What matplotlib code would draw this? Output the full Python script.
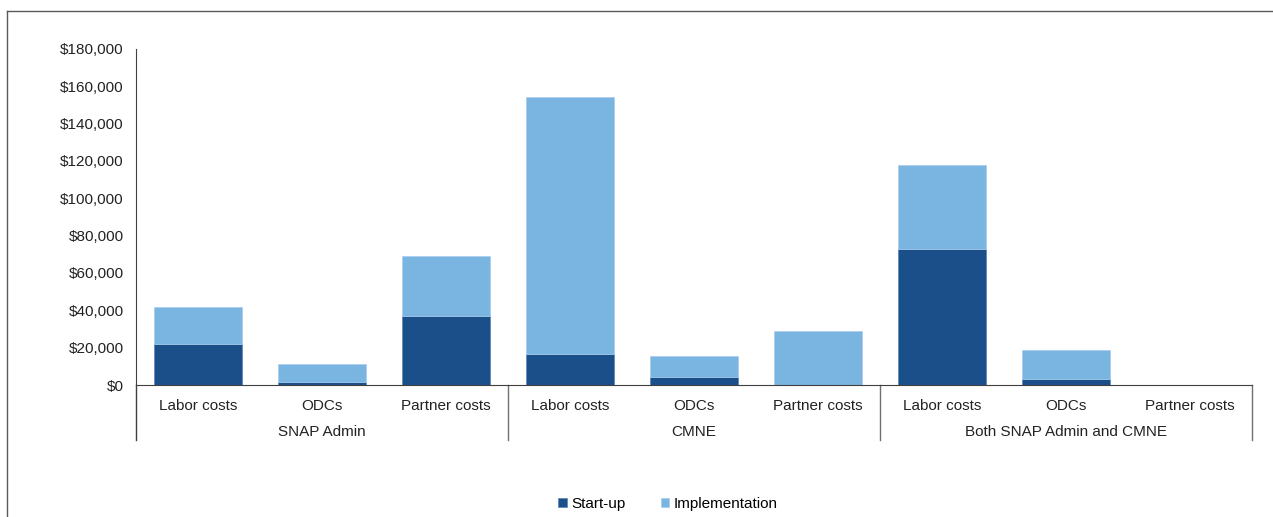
import matplotlib.pyplot as plt
import numpy as np
from matplotlib.lines import Line2D
from matplotlib.ticker import FuncFormatter

plt.rcParams['font.family'] = ['Liberation Sans', 'DejaVu Sans']

# cost data, three cost types per funding group
groups = ['SNAP Admin', 'CMNE', 'Both SNAP Admin and CMNE']
cost_types = ['Labor costs', 'ODCs', 'Partner costs']
startup = [22000, 1500, 37000, 16600, 4400, 0, 72700, 3100, 0]
implementation = [20000, 9800, 32000, 137500, 11000, 28900, 45100, 15600, 0]

dark = '#1B4F8A'
light = '#7AB4E0'
axis_col = '#404040'
fs = 11

fig = plt.figure(figsize=(12.73, 5.17), dpi=100)
W, H = 1273, 517
ax = fig.add_axes([136 / W, (H - 385) / H, (1252 - 136) / W, (385 - 49) / H])

x = np.arange(len(startup))
ax.bar(x, startup, width=0.71, color=dark, edgecolor='#5b85b5', linewidth=0.5,
       label='Start-up', zorder=2)
ax.bar(x, implementation, width=0.71, bottom=startup, color=light,
       edgecolor='#a8cdee', linewidth=0.5, label='Implementation', zorder=2)

ax.set_xlim(-0.5, len(x) - 0.5)
ax.set_ylim(0, 180000)
ax.set_yticks(np.arange(0, 180001, 20000))
ax.yaxis.set_major_formatter(FuncFormatter(lambda v, p: f'${v:,.0f}'))
ax.tick_params(axis='y', length=0, pad=9, labelsize=fs, labelcolor='#222222')

ax.set_xticks(x)
ax.set_xticklabels(cost_types * len(groups))
ax.tick_params(axis='x', length=0, pad=10, labelsize=fs, labelcolor='#222222')

for s in ['top', 'right']:
    ax.spines[s].set_visible(False)
ax.spines['left'].set_color(axis_col)
ax.spines['bottom'].set_color(axis_col)
ax.spines['left'].set_bounds(0, 180000)

# group labels and separators beneath the category axis
trans = ax.get_xaxis_transform()
drop = -(440 - 385) / (385 - 49)
for i, g in enumerate(groups):
    ax.text(i * 3 + 1, -(432 - 385) / (385 - 49), g, transform=trans,
            ha='center', va='center', fontsize=fs, color='#222222')
for b in [-0.5, 2.5, 5.5, 8.5]:
    ax.plot([b, b], [0, drop], transform=trans, color=axis_col if b == -0.5 else '#707070',
            linewidth=1, clip_on=False)

handles, labels = ax.get_legend_handles_labels()
fig.legend(handles, labels, loc='center', bbox_to_anchor=(668 / W, 1 - 504 / H),
           ncol=2, frameon=False, fontsize=fs, handlelength=0.55,
           handleheight=0.55, handletextpad=0.3, columnspacing=2.3)

# outer chart-area border
fig.add_artist(Line2D([7 / W, 7 / W], [0, 1 - 11 / H], color='#595959', linewidth=1))
fig.add_artist(Line2D([7 / W, 1], [1 - 11 / H, 1 - 11 / H], color='#595959', linewidth=1))

fig.savefig('out.png', dpi=100)
